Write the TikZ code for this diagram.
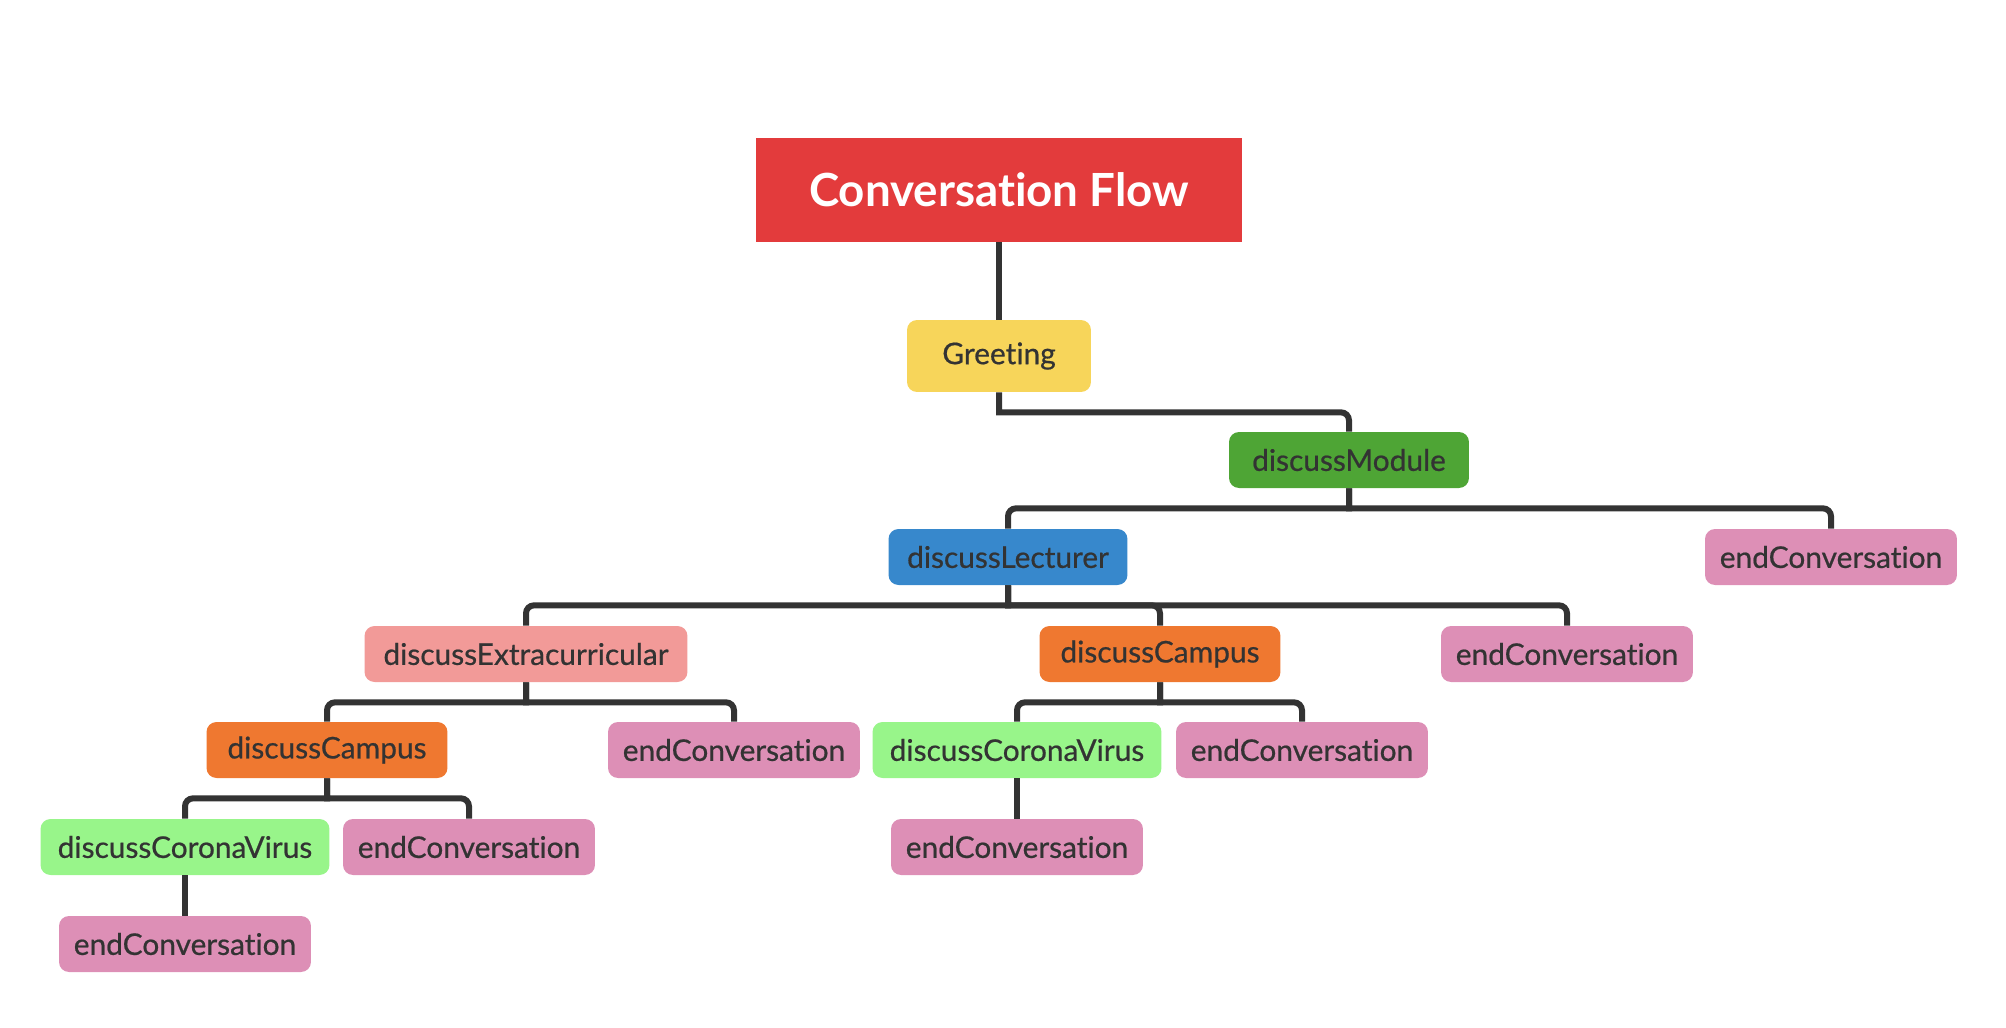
\documentclass[tikz,border=0pt]{standalone}
\usepackage{fontspec}
\setmainfont{Lato}[Ligatures=NoCommon]
\newfontfamily\boxfont{Lato}[Ligatures=NoCommon,FakeBold=0.6]
\usepackage{tikz}

\definecolor{titlered}{HTML}{E33B3C}
\definecolor{greetyellow}{HTML}{F7D55A}
\definecolor{modgreen}{HTML}{4EA535}
\definecolor{lectblue}{HTML}{3788CC}
\definecolor{extrasalmon}{HTML}{F29A98}
\definecolor{camporange}{HTML}{EF7830}
\definecolor{coronagreen}{HTML}{98F58A}
\definecolor{endpink}{HTML}{DD8FB6}
\definecolor{ink}{HTML}{333333}

\begin{document}
\begin{tikzpicture}[x=0.02cm,y=-0.02cm,
	every node/.style={rounded corners=0.2cm,minimum height=1.12cm,inner xsep=0.2cm,text=ink,font=\boxfont\fontsize{17}{20}\selectfont},
	title/.style={fill=titlered,rounded corners=0pt,minimum width=9.72cm,minimum height=2.08cm,text=white,font=\fontsize{26}{30}\selectfont\bfseries},
	greet/.style={fill=greetyellow,minimum width=3.68cm,minimum height=1.44cm},
	module/.style={fill=modgreen,minimum width=4.8cm},
	lecturer/.style={fill=lectblue,minimum width=4.78cm},
	extra/.style={fill=extrasalmon,minimum width=6.46cm},
	campus/.style={fill=camporange,minimum width=4.82cm},
	corona/.style={fill=coronagreen,minimum width=5.78cm},
	endconv/.style={fill=endpink,minimum width=5.04cm},
	link/.style={draw=ink,line width=0.12cm}]
\useasboundingbox (0,0) rectangle (2006,1028);

\node[title] (flow) at (999,190) {Conversation Flow};
\node[greet] (greeting) at (999,356) {Greeting};
\node[module] (module) at (1349,460) {discussModule};
\node[lecturer] (lecturer) at (1008,557) {discussLecturer};
\node[endconv] (end1) at (1831,557) {endConversation};
\node[extra] (extra) at (526,654) {discussExtracurricular};
\node[campus] (campus1) at (1160,654) {discussCampus};
\node[endconv] (end2) at (1567,654) {endConversation};
\node[campus] (campus2) at (327,750) {discussCampus};
\node[endconv] (end3) at (734,750) {endConversation};
\node[corona] (corona1) at (1017,750) {discussCoronaVirus};
\node[endconv] (end4) at (1302,750) {endConversation};
\node[corona] (corona2) at (185,847) {discussCoronaVirus};
\node[endconv] (end5) at (469,847) {endConversation};
\node[endconv] (end6) at (1017,847) {endConversation};
\node[endconv] (end7) at (185,944) {endConversation};

% branches
\draw[link] (flow.south) -- (greeting.north);
\draw[link] (greeting.south) -- ++(0,20) [rounded corners=0.16cm] -| (module.north);
\draw[link] (module.south) -- ++(0,20) [rounded corners=0.16cm] -| (lecturer.north);
\draw[link] (module.south) -- ++(0,20) [rounded corners=0.16cm] -| (end1.north);
\draw[link] (lecturer.south) -- ++(0,20) [rounded corners=0.16cm] -| (extra.north);
\draw[link] (lecturer.south) -- ++(0,20) [rounded corners=0.16cm] -| (campus1.north);
\draw[link] (lecturer.south) -- ++(0,20) [rounded corners=0.16cm] -| (end2.north);
\draw[link] (extra.south) -- ++(0,20) [rounded corners=0.16cm] -| (campus2.north);
\draw[link] (extra.south) -- ++(0,20) [rounded corners=0.16cm] -| (end3.north);
\draw[link] (campus1.south) -- ++(0,20) [rounded corners=0.16cm] -| (corona1.north);
\draw[link] (campus1.south) -- ++(0,20) [rounded corners=0.16cm] -| (end4.north);
\draw[link] (campus2.south) -- ++(0,20) [rounded corners=0.16cm] -| (corona2.north);
\draw[link] (campus2.south) -- ++(0,20) [rounded corners=0.16cm] -| (end5.north);
\draw[link] (corona1.south) -- (end6.north);
\draw[link] (corona2.south) -- (end7.north);
\end{tikzpicture}
\end{document}
